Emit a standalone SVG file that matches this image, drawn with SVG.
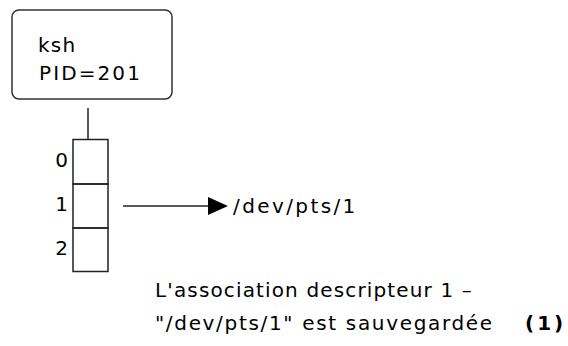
<svg xmlns="http://www.w3.org/2000/svg" width="568" height="346" viewBox="0 0 568 346">
<defs>
<style>
text{font-family:"DejaVu Sans",Verdana,sans-serif;font-size:20px;fill:#000}
.ln{stroke:#222;stroke-width:1.5;fill:none}
.box{stroke:#333;stroke-width:1.5;fill:#fff}
</style>
<marker id="ah" viewBox="0 0 20 18" refX="0" refY="9" markerWidth="20" markerHeight="18" markerUnits="userSpaceOnUse" orient="auto">
<path d="M0,0 L20,9 L0,18 Z" fill="#000"/>
</marker>
</defs>
<rect width="568" height="346" fill="#fff"/>
<g id="process">
<rect class="box" x="12" y="10" width="160" height="89" rx="7"/>
<text x="38" y="52" letter-spacing="1.2">ksh</text>
<text x="39" y="80" letter-spacing="2.1">PID=201</text>
</g>
<g id="fdtable">
<rect class="ln" x="73" y="139.5" width="35" height="44.5"/>
<rect class="ln" x="73" y="184" width="35" height="44"/>
<rect class="ln" x="73" y="228" width="35" height="43.5"/>
<text x="68" y="167" text-anchor="end">0</text>
<text x="68" y="211" text-anchor="end">1</text>
<text x="68" y="255" text-anchor="end">2</text>
</g>
<g id="target">
<text x="233" y="213" letter-spacing="2.4">/dev/pts/1</text>
</g>
<g id="note">
<text x="155" y="297" letter-spacing="1.14">L'association descripteur 1 –</text>
<text x="155" y="330" letter-spacing="1.67">"/dev/pts/1" est sauvegardée</text>
<text x="525" y="330" font-weight="bold" letter-spacing="3">(1)</text>
</g>
<g id="connectors">
<line class="ln" x1="88" y1="108" x2="88" y2="139"/>
<line class="ln" x1="123" y1="206" x2="208" y2="206" marker-end="url(#ah)"/>
</g>
</svg>
